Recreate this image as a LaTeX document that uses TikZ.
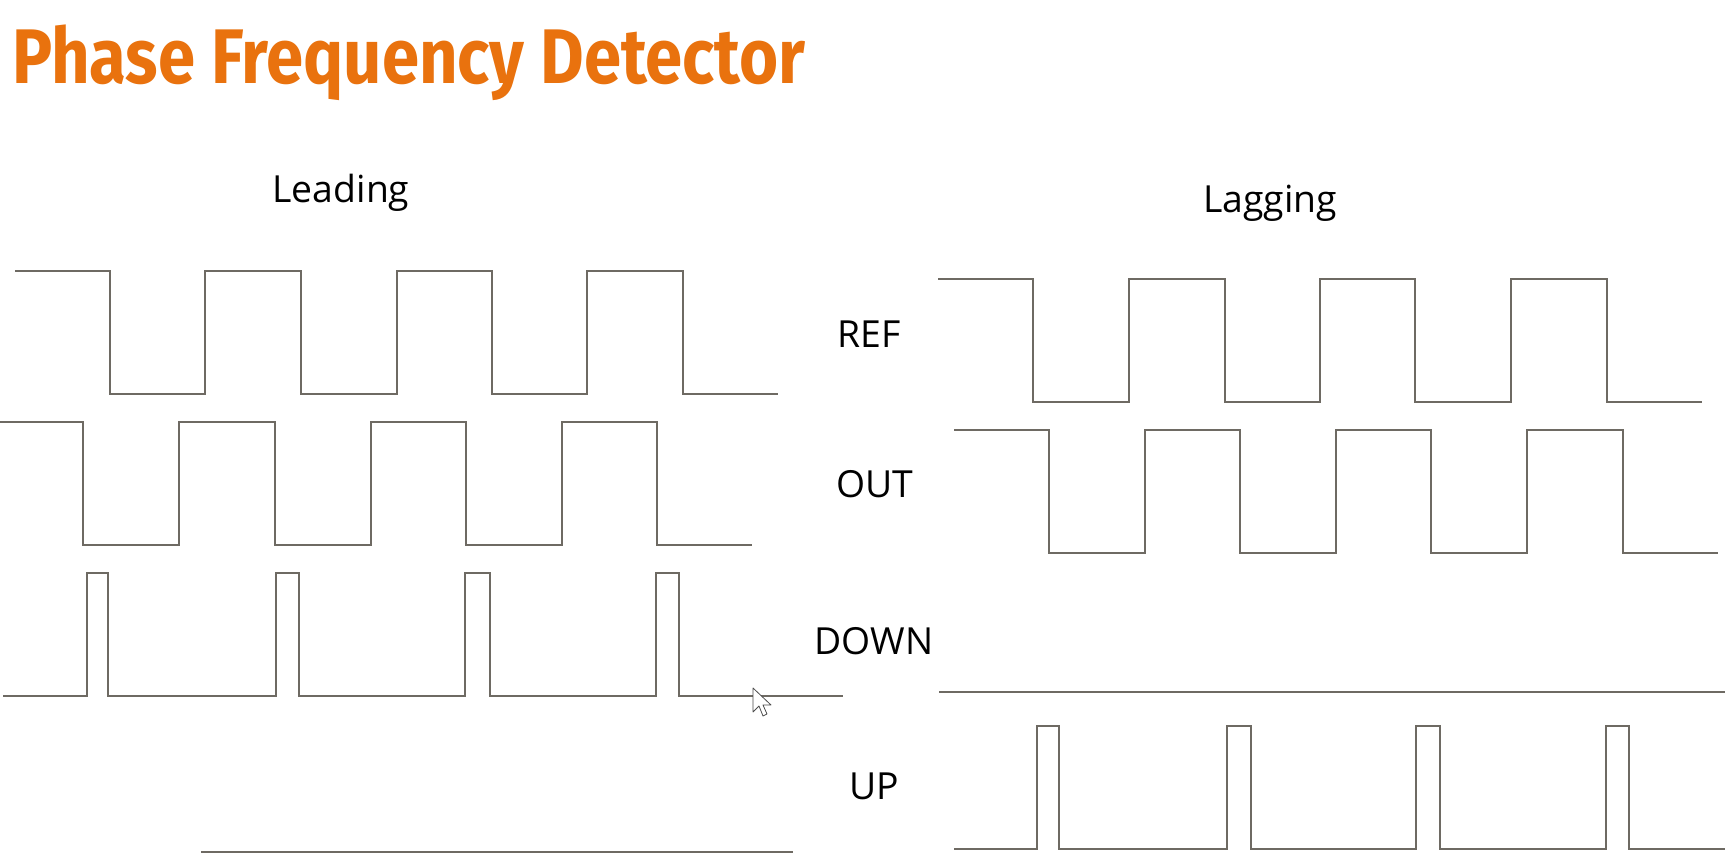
\documentclass[tikz,border=0pt]{standalone}
\usepackage{fontspec}
\setmainfont{Open Sans}
\newfontfamily\titlefont{Fira Sans}
\definecolor{pfdorange}{RGB}{233,114,14}
\definecolor{wavegray}{RGB}{110,106,99}
\tikzset{
	wave/.style={draw=wavegray, line width=2pt, line join=miter},
	siglabel/.style={anchor=base, inner sep=0pt, font=\fontsize{28}{32}\selectfont}
}
\begin{document}
\begin{tikzpicture}[x=0.75pt, y=-0.75pt]
		% Fondo y tamano
		\path[fill=white, use as bounding box] (0,0) rectangle (1725,860);
		
		% Titulo
		\node (title) [anchor=base west, inner sep=0pt, text=pfdorange] at (12,83)
			{\resizebox{595pt}{44pt}{\titlefont\bfseries Phase Frequency Detector}};
		
		% Etiquetas de los casos
		\node (leading) [siglabel] at (341,202) {Leading};
		\node (lagging) [siglabel] at (1270,212) {Lagging};
		
		% Etiquetas de las senales
		\node (ref) [siglabel] at (869,347) {REF};
		\node (out) [siglabel] at (875,497) {OUT};
		\node (down) [siglabel] at (874,654) {DOWN};
		\node (up) [siglabel] at (874,799) {UP};
		
		% Leading: REF
		\draw[wave] (15,271) -- (110,271) -- (110,394) -- (205,394) -- (205,271) -- (301,271) -- (301,394) -- (397,394) -- (397,271)
			-- (492,271) -- (492,394) -- (587,394) -- (587,271) -- (683,271) -- (683,394) -- (778,394);
		% Leading: OUT
		\draw[wave] (0,422) -- (83,422) -- (83,545) -- (179,545) -- (179,422) -- (275,422) -- (275,545) -- (371,545) -- (371,422)
			-- (466,422) -- (466,545) -- (562,545) -- (562,422) -- (657,422) -- (657,545) -- (752,545);
		% Leading: DOWN
		\draw[wave] (3,696) -- (87,696) -- (87,573) -- (108,573) -- (108,696) -- (276,696) -- (276,573) -- (299,573) -- (299,696)
			-- (465,696) -- (465,573) -- (490,573) -- (490,696) -- (656,696) -- (656,573) -- (679,573) -- (679,696) -- (843,696);
		% Leading: UP
		\draw[wave] (201,852) -- (793,852);
		
		% Lagging: REF
		\draw[wave] (938,279) -- (1033,279) -- (1033,402) -- (1129,402) -- (1129,279) -- (1225,279) -- (1225,402) -- (1320,402) -- (1320,279)
			-- (1415,279) -- (1415,402) -- (1511,402) -- (1511,279) -- (1607,279) -- (1607,402) -- (1702,402);
		% Lagging: OUT
		\draw[wave] (954,430) -- (1049,430) -- (1049,553) -- (1145,553) -- (1145,430) -- (1240,430) -- (1240,553) -- (1336,553) -- (1336,430)
			-- (1431,430) -- (1431,553) -- (1527,553) -- (1527,430) -- (1623,430) -- (1623,553) -- (1718,553);
		% Lagging: DOWN
		\draw[wave] (939,692) -- (1725,692);
		% Lagging: UP
		\draw[wave] (954,849) -- (1037,849) -- (1037,726) -- (1059,726) -- (1059,849) -- (1227,849) -- (1227,726) -- (1251,726) -- (1251,849)
			-- (1416,849) -- (1416,726) -- (1440,726) -- (1440,849) -- (1606,849) -- (1606,726) -- (1629,726) -- (1629,849) -- (1725,849);
		
		% Puntero
		\draw[fill=white, draw=black!70, line width=0.6pt, line join=round] (753,688) -- (753,712) -- (759,706) -- (763,716) -- (767,714)
			-- (763,705) -- (771,705) -- cycle;
		
	\end{tikzpicture}
\end{document}
